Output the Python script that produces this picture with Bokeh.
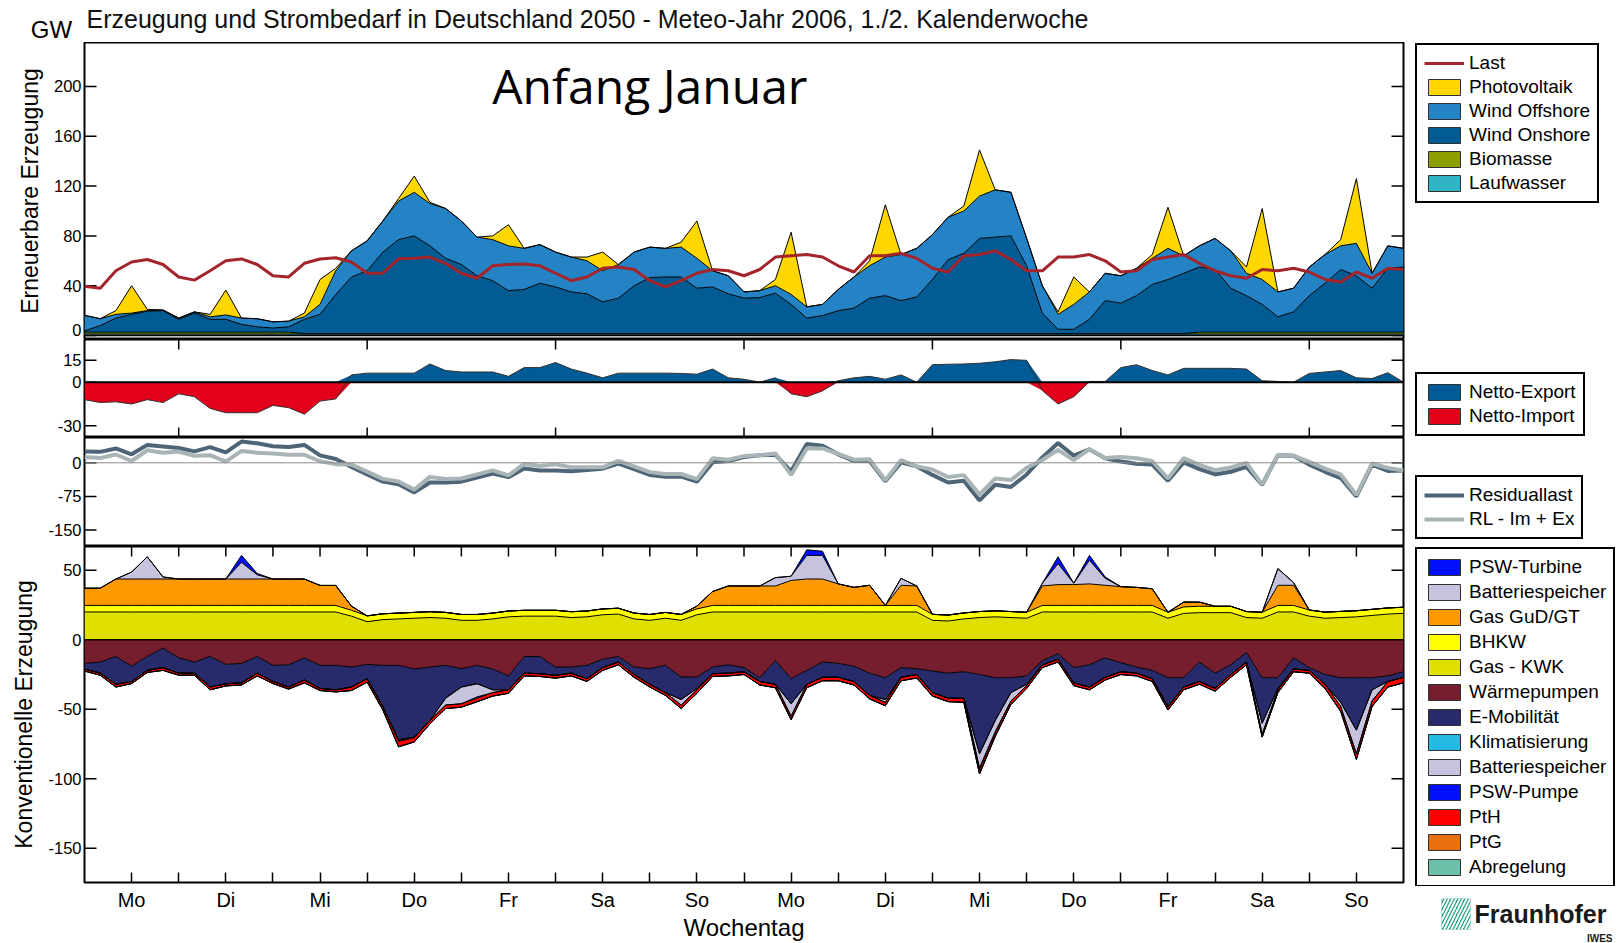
import numpy as np
from bokeh.plotting import figure
from bokeh.models import (ColumnDataSource, Range1d, FixedTicker, Legend, LegendItem, Label, Span,
                          BoxAnnotation, CustomJSTickFormatter)
from bokeh.layouts import column, row
from bokeh.embed import file_html
from bokeh.resources import INLINE

# ---------------- data: 4-hourly values, two weeks (Mo 00:00 ... Mo 00:00) ----------------
hours = list(range(0, 337, 4))
day_labels = ["Mo", "Di", "Mi", "Do", "Fr", "Sa", "So", "Mo", "Di", "Mi", "Do", "Fr", "Sa", "So"]
noon_ticks = [d + 0.5 for d in range(14)]
midnight_ticks = list(range(1, 14))
odd_day_ticks = [1, 3, 5, 7, 9, 11, 13]
title_text = "Erzeugung und Strombedarf in Deutschland 2050 - Meteo-Jahr 2006, 1./2. Kalenderwoche"

# renewable generation (GW)
laufwasser = [1.2, 1.2, 1.2, 1.2, 1.2, 1.2, 1.2, 1.2, 1.2, 1.2, 1.2, 1.2, 1.2, 1.2, 1.2, 1.2, 1.2,
              1.2, 1.2, 1.2, 1.2, 1.2, 1.2, 1.2, 1.2, 1.2, 1.2, 1.2, 1.2, 1.2, 1.2, 1.2, 1.2, 1.2,
              1.2, 1.2, 1.2, 1.2, 1.2, 1.2, 1.2, 1.2, 1.2, 1.2, 1.2, 1.2, 1.2, 1.2, 1.2, 1.2, 1.2,
              1.2, 1.2, 1.2, 1.2, 1.2, 1.2, 1.2, 1.2, 1.2, 1.2, 1.2, 1.2, 1.2, 1.2, 1.2, 1.2, 1.2,
              1.2, 1.2, 1.2, 1.2, 1.2, 1.2, 1.2, 1.2, 1.2, 1.2, 1.2, 1.2, 1.2, 1.2, 1.2, 1.2, 1.2]
biomasse = [1.5, 1.5, 1.5, 1.5, 1.5, 1.5, 1.5, 1.5, 1.5, 1.5, 1.5, 1.5, 1.5, 1.5,
            0.3, 0.3, 0.3, 0.3, 0.3, 0.3, 0.3, 0.3, 0.3, 0.3, 0.3, 0.3, 0.3, 0.3, 0.3, 0.3,
            0.3, 0.3, 0.3, 0.3, 0.3, 0.3, 0.3, 0.3, 0.3, 0.3, 0.3, 0.3, 0.3, 0.3, 0.3, 0.3,
            0.3, 0.3, 0.3, 0.3, 0.3, 0.3, 0.3, 0.3, 0.3, 0.3, 0.3, 0.3, 0.3, 0.3, 0.3, 0.3,
            0.3, 0.3, 0.3, 0.3, 0.3, 0.3, 0.3, 0.3, 0.3,
            1.5, 1.5, 1.5, 1.5, 1.5, 1.5, 1.5, 1.5, 1.5, 1.5, 1.5, 1.5, 1.5, 1.5]
wind_onshore = [1, 5.3, 11.3, 14.3, 16.8, 17.3, 10.3, 15.3, 10.3, 10.3, 6.3, 4.3, 3.3, 4.3,
                11.5, 15.5, 31.5, 45.5, 50.5, 65.5, 75.5, 78.5, 70.5, 60.5,
                55.5, 46.5, 42.5, 34.5, 35.5, 40.5, 37.5, 33.5, 32, 25.5,
                28.5, 38.5, 45, 45.5, 45.5, 36.5, 37.5, 32, 28.5, 29,
                32.5, 23.5, 12.5, 14.5, 18.5, 20.5, 28.5, 30.5, 26.5, 29.5,
                43.5, 59.5, 64.5, 76.5, 77.5, 78.5, 54.5, 16.5, 3.5, 3.5,
                11.5, 26.5, 24.5, 30.5, 39.5, 43.5, 48.5,
                52.3, 50.3, 35.3, 29.3, 22.3, 12.3, 16.3, 29.3, 39.3, 50.3, 45.3, 35.3, 51.3, 52.3]
wind_offshore = [12.5, 5.5, 3, 1, 0.5, 0.5, 1, 1, 2, 3.5,
                 5, 6.5, 5, 4.5, 2, 8, 19, 21, 24, 25,
                 31, 35, 34, 40, 35, 31, 33, 36, 33, 31,
                 28, 28, 26.5, 25, 27, 27, 24.5, 23, 24, 24,
                 13, 14.5, 5, 5.5, 6, 8, 9, 9, 17, 25,
                 26, 31, 37, 39, 36, 34, 34, 34, 38, 35,
                 22, 22, 12, 20, 22, 22, 22, 22, 21, 25,
                 14, 17, 25, 30, 18, 20, 20, 19, 23, 23,
                 19, 26, 12, 18, 15]
photovoltaik = [0, 0, 3, 22, 1, 0,  0, 0, 2, 20, 0, 0,  0, 0, 3, 20, 2, 0,  0, 0, 2, 13, 1, 0,
                0, 0, 3, 17, 0, 0,  0, 0, 3, 15, 0, 0,  0, 0, 4, 30, 0, 0,  0, 0, 5, 50, 0, 0,
                0, 0, 4, 42, 0, 0,  0, 0, 4, 37, 0, 0,  0, 0, 2, 22, 0, 0,  0, 0, 3, 33, 0, 0,
                0, 0, 5, 57, 0, 0,  0, 0, 5, 52, 0, 0,  0]
last = [39.5, 38, 52, 59, 61, 57,  47, 44.5, 52, 60, 61.5, 57,  48, 47, 58, 61.5, 62.5, 59,
        50, 50, 61.6, 62, 63, 58,  50, 46, 56, 57, 57.5, 56,  50, 44, 47, 54, 55, 53,
        44, 39, 44, 50, 53, 52,  48, 53, 63, 64, 65, 63,  56, 51, 64, 64, 66, 62,
        54, 51, 64, 65, 68, 61,  52, 52, 63, 63, 65, 60,  51, 52, 61, 63, 65, 58,
        52, 48, 46, 53, 52, 54,  51, 45, 43, 51, 46, 54,  53]

# net exchange (+ export / - import)
netto = [-12, -14, -13.5, -15, -12, -14,  -8, -10, -18, -21, -21, -21,  -16, -17.5, -22, -13, -11.5, 5,
         6.2, 6.2, 6.2, 6.2, 12.5, 8,  7, 7, 7, 4, 10, 10,  13.5, 9, 6.2, 3, 6.2, 6.2,
         6.2, 6.2, 6, 5.5, 9, 3,  2, 0, 3, -8, -10, -6,  1, 3, 4, 2, 5, 0,
         12, 12.3, 12.5, 13, 14, 15.5,  15, -5.8, -15, -10, 0.5, 0.5,  10, 12, 8, 5, 9.5, 9.5,
         9.5, 9.5, 9, 1, 0.5, 0,  6, 7, 8, 3, 2.5, 6.5,  0]

# residual load lines
residuallast = [25, 24.5, 32, 19, 40, 36.5,  33, 25.5, 35, 23.5, 47.5, 43.5,  37, 35.5, 40, 16.5, 8.5, -9,
                -26, -42, -48, -66, -44, -44,  -42, -33, -24, -32, -12.5, -17,  -17, -19, -16, -13, -2, -14,
                -27, -31, -31, -42, 1, 4,  13, 17, 18, -19, 42, 38,  19, 4, 4, -41, 1, -8,
                -27, -44, -40, -84, -49, -54,  -26, 12, 44, 16, 30, 10,  3, -2, -4, -40, 1, -14,
                -26, -20, -9, -49, 17, 16,  -4, -20, -34, -75, -4, -18,  -17]
rl_im_ex = [13, 10.5, 18.5, 4, 28, 22.5,  25, 15.5, 17, 2.5, 26.5, 22.5,  21, 18, 18, 3.5, -3, -4,
            -19.8, -35.8, -41.8, -59.8, -31.5, -36,  -35, -26, -17, -28, -2.5, -7,  -3.5, -10, -9.8, -10, 4.2, -7.8,
            -20.8, -24.8, -25, -36.5, 10, 7,  15, 17, 21, -27, 32, 32,  20, 7, 8, -39, 6, -8,
            -15, -31.7, -27.5, -71, -35, -38.5,  -11, 6.2, 29, 6, 30.5, 10.5,  13, 10, 4, -35, 10.5, -4.5,
            -16.5, -10.5, 0, -48, 17.5, 16,  2, -13, -26, -72, -1.5, -11.5,  -17]

# conventional generation (positive)
gas_kwk = [20, 20, 20, 20, 20, 20, 20, 20, 20, 20, 20, 20, 20, 20, 20, 20, 20,
           17, 13, 14.5, 15, 15.5, 16, 15.5, 14, 14, 15, 16.5, 17, 17, 17, 16, 16.5, 18, 18.5, 15, 14, 15.5, 14, 18,
           20, 20, 20, 20, 20, 20, 20, 20, 20, 20, 20, 20, 20, 20,
           14, 13.5, 15, 16, 16.5, 16, 15.5,
           20, 20, 20, 20, 20, 20, 20, 20,
           15.5, 19, 19.5, 19.5, 19.5, 16, 15.5, 20, 20, 17, 15.5, 16, 16.5, 17.5, 18.5, 19]
bhkw = [4.7, 4.7, 4.7, 4.7, 4.7, 4.7, 4.7, 4.7, 4.7, 4.7, 4.7, 4.7, 4.7, 4.7, 4.7, 4.7, 4.7,
        4.2, 4.2, 4.2, 4.2, 4.2, 4.2, 4.2, 4.2, 4.2, 4.2, 4.2, 4.2, 4.2, 4.2, 4.2, 4.2, 4.2, 4.2,
        4.2, 4.2, 4.2, 4.2, 4.2,
        4.7, 4.7, 4.7, 4.7, 4.7, 4.7, 4.7, 4.7, 4.7, 4.7, 4.7, 4.7, 4.7, 4.7,
        4.3, 4.3, 4.3, 4.3, 4.3, 4.3, 4.3,
        4.7, 4.7, 4.7, 4.7, 4.7, 4.7, 4.7, 4.7,
        4.3, 4.6, 4.6, 4.6, 4.6, 4.3, 4.3, 4.7, 4.7, 4.4, 4.4, 4.4, 4.4, 4.4, 4.4, 4.4]
gas_gud = [12.4, 12.4, 19, 19, 19, 19, 19, 19, 19, 19, 19, 19, 19, 19, 19, 14.4, 14.4, 3,
           0, 0, 0, 0, 0, 0, 0, 0, 0, 0, 0, 0, 0, 0, 0, 0, 0, 0, 0, 0, 0,
           2, 10, 14, 14, 14, 14, 18, 19, 19, 15.5, 13, 14.5, 0, 14.5, 14,
           0, 0, 0, 0, 0, 0, 0,
           14, 15, 15, 15.5, 14.5, 13.5, 13, 12,
           0, 3.5, 3, 0, 0, 0, 0, 14.5, 14.5, 0, 0, 0, 0, 0, 0, 0]
batterie_entl = [0, 0, 0, 5, 16, 1.5,  0, 0, 0, 0, 12, 3,  0, 0, 0, 0, 0, 0,  0, 0, 0, 0, 0, 0,
                 0, 0, 0, 0, 0, 0,  0, 0, 0, 0, 0, 0,  0, 0, 0, 0, 0, 0,  0, 0, 6, 3, 17, 17,
                 0, 0, 0, 0, 5, 0,  0, 0, 0, 0, 0, 0,  0, 2, 15, 1, 17, 5,  0, 0, 0, 0, 0, 0,
                 0, 0, 0, 0, 12, 2,  0, 0, 0, 0, 0, 0,  0]
psw_turbine = [0, 0, 0, 0, 0, 0,  0, 0, 0, 0, 5, 1,  0, 0, 0, 0, 0, 0,  0, 0, 0, 0, 0, 0,
               0, 0, 0, 0, 0, 0,  0, 0, 0, 0, 0, 0,  0, 0, 0, 0, 0, 0,  0, 0, 0, 0, 4, 3,
               0, 0, 0, 0, 0, 0,  0, 0, 0, 0, 0, 0,  0, 0, 5, 0, 3.5, 1,  0, 0, 0, 0, 0, 0,
               0, 0, 0, 0, 0, 0,  0, 0, 0, 0, 0, 0,  0]

# consumption / flexible loads (drawn below zero)
waermepumpen = [17, 16, 12, 19, 12, 6,  13, 16, 12, 17.7, 17, 12,  18.4, 18, 13, 18.4, 18.4, 19.6,
                17.7, 18.4, 18.4, 21, 19.6, 18.4,  20.8, 18.4, 21, 26, 12, 12,  19.6, 19.6, 18.4, 14, 12, 19.6,
                20.8, 18.4, 26.8, 26.8, 19.6, 18,  20, 27.3, 15, 28, 22, 16,  17, 19, 24, 27.3, 20, 20.8,
                22.5, 24, 23, 25, 27.3, 27.3,  26, 15, 10, 20, 18, 13,  16.5, 19.6, 22, 27.3, 27.3, 16,
                24, 18, 9, 27.3, 27.3, 13,  20, 25, 27.3, 27.3, 27.3, 26,  23]
e_mobilitaet = [4, 8, 20, 11, 10, 14,  11, 8, 22, 14, 14, 12,  11.6, 16, 16, 16.6, 17.6, 14.4,
                10.3, 29.6, 53.6, 49, 38.4, 23.6,  13.2, 13.2, 15, 10, 12, 12.4,  6, 4.4, 9.6, 6, 4, 5.4,
                11.2, 19.6, 16.2, 8.2, 4.8, 6,  3, 2.7, 17, 18, 10, 11,  10, 11, 16, 15.7, 7, 4.2,
                15.5, 18, 19, 57, 30.7, 10.7,  6, 3, 4, 11, 16, 14,  6.5, 4.4, 6, 20.7, 6.7, 14,
                11, 7, 7, 32.7, 7.7, 8,  2, 7, 17.7, 37.7, 8.7, 4,  4]
klimatisierung = [0, 0, 0, 0, 0, 0,  0, 0, 0, 0, 0, 0,  0, 0, 0, 0, 0, 0,  0, 0, 0, 0, 0, 0,
                  0, 0, 0, 0, 0, 0,  0, 0, 0, 0, 0, 0,  0, 0, 0, 0, 0, 0,  0, 0, 0, 0, 0, 0,
                  0, 0, 0, 0, 0, 0,  0, 0, 0, 0, 0, 0,  0, 0, 0, 0, 0, 0,  0, 0, 0, 0, 0, 0,
                  0, 0, 0, 0, 0, 0,  0, 0, 0, 0, 0, 0,  0]
batterie_lad = [0, 0, 0, 0, 0, 0,  0, 0, 0, 0, 0, 0,  0, 0, 0, 0, 0, 0,  0, 0, 0, 0, 0, 5,
                12, 9.5, 2, 0, 0, 0,  0, 0, 0, 0, 0, 0,  0, 0, 4, 1, 0, 0,  0, 0, 0, 9, 0, 0,
                0, 0, 0, 2, 0, 0,  0, 0, 0, 10, 8, 6,  1, 0, 0, 0, 0, 0,  0, 0, 0, 0, 0, 0,
                0, 0, 0, 8, 1, 0,  0, 0, 3, 17, 8, 0,  0]
psw_pumpe = [0, 0, 0, 0, 0, 0,  0, 0, 0, 0, 0, 0,  0, 0, 0, 0, 0, 0,  0, 0, 1, 0.5, 0, 0,
             0, 1, 0, 0, 0, 0,  0, 0, 0, 0, 0, 0,  0, 0, 0, 0, 0, 0,  0, 0, 0, 0, 0, 0,
             0, 0, 0, 0, 0, 0,  0, 0, 0, 1.5, 1, 0,  0, 0, 0, 0, 0, 0,  0, 0, 0, 0.5, 0, 0,
             0, 0, 0, 0, 0, 0,  0, 0, 0, 0, 0, 0,  0]
pth = [1.5, 1.5, 2, 1.5, 1.5, 2,  1.5, 1.5, 2, 1.5, 1.5, 2,  1.5, 1.5, 2, 1.5, 1.5, 2.5,
       2.5, 2.5, 4, 3, 2.5, 2.5,  2.5, 2.5, 2.5, 2.5, 2, 2,  2, 2, 2, 2, 2, 2,
       2, 2, 2.5, 2.5, 2, 2,  2, 2.5, 2.5, 2.5, 2.5, 2.5,  2.5, 2.5, 2.5, 2.5, 2.5, 2.5,
       2.5, 2.5, 3, 3, 2.5, 2.5,  2, 2, 2, 2, 2, 2,  2, 2, 2, 2, 2, 2,
       2, 2, 2, 2, 2, 2,  2, 3, 3.5, 4, 4, 4,  4]
ptg = [0, 0, 0, 0, 0, 0,  0, 0, 0, 0, 0, 0,  0, 0, 0, 0, 0, 0,  0, 0, 0, 0, 0, 0,
       0, 0, 0, 0, 0, 0,  0, 0, 0, 0, 0, 0,  0, 0, 0, 0, 0, 0,  0, 0, 0, 0, 0, 0,
       0, 0, 0, 0, 0, 0,  0, 0, 0, 0, 0, 0,  0, 0, 0, 0, 0, 0,  0, 0, 0, 0, 0, 0,
       0, 0, 0, 0, 0, 0,  0, 0, 0, 0, 0, 0,  0]
abregelung = [0, 0, 0, 0, 0, 0,  0, 0, 0, 0, 0, 0,  0, 0, 0, 0, 0, 0,  0, 0, 0, 0, 0, 0,
              0, 0, 0, 0, 0, 0,  0, 0, 0, 0, 0, 0,  0, 0, 0, 0, 0, 0,  0, 0, 0, 0, 0, 0,
              0, 0, 0, 0, 0, 0,  0, 0, 0, 0, 0, 0,  0, 0, 0, 0, 0, 0,  0, 0, 0, 0, 0, 0,
              0, 0, 0, 0, 0, 0,  0, 0, 0, 0, 0, 0,  0]

# ---------------- styling ----------------
FONT = "Liberation Sans"
FW = 1319          # plot-frame width (px)
LEFT = 84          # left border (px)
GAP = 11           # gap between frame and legend column (px)
LEGW = 1618 - LEFT - FW - GAP
C = dict(lauf="#31B3C6", bio="#8C9E00", on="#035B94", off="#2383C4", pv="#FFD700", last="#A4242C",
         exp="#005B96", imp="#E3001B", rl="#4D6576", rlx="#A9B4B6",
         psw="#0010FF", bat="#C6C3DF", gud="#FF9900", bhkw="#FFFF00", kwk="#E0E000", wp="#761D2E",
         emob="#272B6B", klima="#23B9E2", pth="#FF0000", ptg="#E8700E", abr="#6BC1A9")

t = np.array(hours) / 24.0
xr = Range1d(0, 14)


def base_fig(fh, yr, xaxis=False, bottom=0):
    p = figure(frame_width=FW, frame_height=fh, x_range=xr, y_range=Range1d(yr[0], yr[1]),
               output_backend="svg", toolbar_location=None, title_location=None,
               x_axis_location="below" if xaxis else None,
               min_border_left=LEFT, min_border_right=GAP, min_border_top=0, min_border_bottom=bottom)
    p.grid.visible = False
    p.outline_line_color = "black"
    p.outline_line_width = 2
    p.outline_line_alpha = 1
    p.background_fill_color = "white"
    p.border_fill_color = "white"
    return p


def style_y(p, ticks, yr, fh, label=None, label_standoff=8, label_ticks=None):
    ax = p.yaxis[0]
    ax.ticker = FixedTicker(ticks=label_ticks if label_ticks is not None else ticks)
    ax.formatter = CustomJSTickFormatter(code="return (Math.abs(tick) < 6) ? '0' : tick.toFixed(0);")
    ax.major_tick_in = 0
    ax.major_tick_out = 0
    ax.minor_tick_in = 0
    ax.minor_tick_out = 0
    ax.axis_line_color = None
    ax.major_label_text_font = FONT
    ax.major_label_text_font_size = "16.5px"
    ax.major_label_text_color = "black"
    ax.major_label_standoff = 3
    if label:
        ax.axis_label = label
        ax.axis_label_text_font = FONT
        ax.axis_label_text_font_size = "23px"
        ax.axis_label_text_font_style = "normal"
        ax.axis_label_text_color = "black"
        ax.axis_label_standoff = label_standoff
    # inward tick marks on both sides
    d = 12 * 14 / FW
    n = len(ticks)
    p.segment(x0=[0] * n, x1=[d] * n, y0=ticks, y1=ticks, line_color="black", line_width=1.5)
    p.segment(x0=[14] * n, x1=[14 - d] * n, y0=ticks, y1=ticks, line_color="black", line_width=1.5)


def x_tick_marks(p, xs, yr, fh, where, length=10):
    d = length * (yr[1] - yr[0]) / fh
    if where == "bottom":
        y0, y1 = yr[0], yr[0] + d
    else:
        y0, y1 = yr[1], yr[1] - d
    p.segment(x0=xs, x1=xs, y0=[y0] * len(xs), y1=[y1] * len(xs), line_color="black", line_width=1.5)


def plain_fig(w, h):
    f = figure(width=w, height=h, x_range=Range1d(0, w), y_range=Range1d(0, h),
               output_backend="svg", toolbar_location=None, title_location=None, min_border=0,
               x_axis_location=None, y_axis_location=None)
    f.outline_line_color = None
    f.grid.visible = False
    f.background_fill_color = "white"
    f.border_fill_color = "white"
    return f


def legend_fig(h, entries, loc, spacing=2, padding=7):
    f = plain_fig(LEGW, h)
    items = []
    for label, kind, color, lw in entries:
        # legend-key glyphs only: placed outside the visible range of this legend column
        if kind == "line":
            r = f.line(x=[-30, -20], y=[-30, -30], line_color=color, line_width=lw)
        else:
            r = f.quad(left=[-30], right=[-20], top=[-20], bottom=[-30], fill_color=color,
                       line_color="#303030", line_width=1)
        items.append(LegendItem(label=label, renderers=[r]))
    leg = Legend(items=items, location=loc, margin=1, padding=padding, spacing=spacing,
                 glyph_width=40, glyph_height=20, label_height=20, label_standoff=5,
                 label_text_font=FONT, label_text_font_size="19px", label_text_color="black",
                 border_line_color="black", border_line_width=2, border_line_alpha=1,
                 background_fill_color="white", background_fill_alpha=1)
    f.add_layout(leg)
    return f


# ---------------- header (title + unit) ----------------
header = plain_fig(1618, 42)
header.add_layout(Label(x=86, y=24, text=title_text, text_font=FONT, text_font_size="25px",
                        text_align="left", text_baseline="middle", text_color="#111111"))
header.add_layout(Label(x=51, y=13, text="GW", text_font=FONT, text_font_size="24px",
                        text_align="center", text_baseline="middle", text_color="black"))

# ---------------- panel 1: renewables ----------------
Y1 = (-3.2, 235.3)
H1 = 297
p1 = base_fig(H1, Y1)
style_y(p1, [0, 40, 80, 120, 160, 200], Y1, H1, "Erneuerbare Erzeugung", 8,
        label_ticks=[4.5, 40, 80, 120, 160, 200])
src1 = ColumnDataSource(dict(t=t, lauf=laufwasser, bio=biomasse, on=wind_onshore,
                             off=wind_offshore, pv=photovoltaik, last=last))
stack1 = ["lauf", "bio", "on", "off", "pv"]
p1.varea_stack(stack1, x="t", color=[C["lauf"], C["bio"], C["on"], C["off"], C["pv"]], source=src1)
p1.vline_stack(stack1, x="t", color="black", line_width=1, source=src1)
p1.add_layout(Span(location=0, dimension="width", line_color="black", line_width=1.5))
p1.line("t", "last", source=src1, line_color=C["last"], line_width=3)
p1.add_layout(Label(x=6.0, y=200.8, text="Anfang Januar", text_font="Open Sans", text_font_size="48px",
                    text_align="center", text_baseline="middle", text_color="black"))
lg1 = legend_fig(H1, [("Last", "line", C["last"], 3),
                      ("Photovoltaik", "box", C["pv"], 1),
                      ("Wind Offshore", "box", C["off"], 1),
                      ("Wind Onshore", "box", C["on"], 1),
                      ("Biomasse", "box", C["bio"], 1),
                      ("Laufwasser", "box", C["lauf"], 1)], "top_left")

# ---------------- panel 2: net exchange ----------------
Y2 = (-38.0, 29.3)
H2 = 98
p2 = base_fig(H2, Y2)
style_y(p2, [-30, 0, 15], Y2, H2)
net = np.array(netto, dtype=float)
src2 = ColumnDataSource(dict(t=t, exp=np.clip(net, 0, None), imp=np.clip(net, None, 0), net=net))
p2.varea(x="t", y1=0, y2="exp", source=src2, color=C["exp"])
p2.varea(x="t", y1="imp", y2=0, source=src2, color=C["imp"])
p2.line("t", "net", source=src2, line_color="#333333", line_width=1)
p2.add_layout(Span(location=0, dimension="width", line_color="black", line_width=2))
x_tick_marks(p2, odd_day_ticks, Y2, H2, "top")
x_tick_marks(p2, odd_day_ticks, Y2, H2, "bottom")
lg2 = legend_fig(H2, [("Netto-Export", "box", C["exp"], 1),
                      ("Netto-Import", "box", C["imp"], 1)], (1, 1))

# ---------------- panel 3: residual load ----------------
Y3 = (-186.8, 56.5)
H3 = 109
p3 = base_fig(H3, Y3)
style_y(p3, [-150, -75, 0], Y3, H3)
p3.add_layout(Span(location=0, dimension="width", line_color="#8a8a8a", line_width=1))
src3 = ColumnDataSource(dict(t=t, rl=residuallast, rlx=rl_im_ex))
p3.line("t", "rl", source=src3, line_color=C["rl"], line_width=4)
p3.line("t", "rlx", source=src3, line_color=C["rlx"], line_width=4)
lg3 = legend_fig(H3, [("Residuallast", "line", C["rl"], 4),
                      ("RL - Im + Ex", "line", C["rlx"], 4)], (1, 7))

# ---------------- panel 4: conventional generation & flexible loads ----------------
Y4 = (-174.6, 67.1)
H4 = 336
B4 = 61
p4 = base_fig(H4, Y4, xaxis=True, bottom=B4)
style_y(p4, [-150, -100, -50, 0, 50], Y4, H4, "Konventionelle Erzeugung", 8)
xa = p4.xaxis[0]
xa.ticker = FixedTicker(ticks=noon_ticks, minor_ticks=midnight_ticks)
xa.formatter = CustomJSTickFormatter(args=dict(names=day_labels),
                                     code="return names[Math.round(tick - 0.5)] || '';")
xa.major_tick_in = 10
xa.major_tick_out = 0
xa.minor_tick_in = 10
xa.minor_tick_out = 0
xa.major_tick_line_width = 1.5
xa.minor_tick_line_width = 1.5
xa.minor_tick_line_color = "black"
xa.axis_line_color = None
xa.major_label_text_font = FONT
xa.major_label_text_font_size = "20px"
xa.major_label_text_color = "black"
xa.major_label_standoff = 6
xa.axis_label = "Wochentag"
xa.axis_label_text_font = FONT
xa.axis_label_text_font_size = "24px"
xa.axis_label_text_font_style = "normal"
xa.axis_label_text_color = "black"
xa.axis_label_standoff = 0
x_tick_marks(p4, noon_ticks + midnight_ticks, Y4, H4, "top")

src4 = ColumnDataSource(dict(
    t=t, kwk=gas_kwk, bhkw=bhkw, gud=gas_gud, batd=batterie_entl, pswt=psw_turbine,
    wp=-np.array(waermepumpen, dtype=float), emob=-np.array(e_mobilitaet, dtype=float),
    klima=-np.array(klimatisierung, dtype=float), batl=-np.array(batterie_lad, dtype=float),
    pswp=-np.array(psw_pumpe, dtype=float), pth=-np.array(pth, dtype=float),
    ptg=-np.array(ptg, dtype=float), abr=-np.array(abregelung, dtype=float)))
pos = ["kwk", "bhkw", "gud", "batd", "pswt"]
neg = ["wp", "emob", "klima", "batl", "pswp", "pth", "ptg", "abr"]
p4.varea_stack(pos, x="t", color=[C["kwk"], C["bhkw"], C["gud"], C["bat"], C["psw"]], source=src4)
p4.varea_stack(neg, x="t", color=[C["wp"], C["emob"], C["klima"], C["bat"], C["psw"], C["pth"],
                                  C["ptg"], C["abr"]], source=src4)
p4.vline_stack(pos, x="t", color="black", line_width=1, source=src4)
p4.vline_stack(neg, x="t", color="black", line_width=1, source=src4)
p4.add_layout(Span(location=0, dimension="width", line_color="black", line_width=1.5))

LG4H = 340
lg4 = legend_fig(LG4H, [("PSW-Turbine", "box", C["psw"], 1),
                        ("Batteriespeicher", "box", C["bat"], 1),
                        ("Gas GuD/GT", "box", C["gud"], 1),
                        ("BHKW", "box", C["bhkw"], 1),
                        ("Gas - KWK", "box", C["kwk"], 1),
                        ("Wärmepumpen", "box", C["wp"], 1),
                        ("E-Mobilität", "box", C["emob"], 1),
                        ("Klimatisierung", "box", C["klima"], 1),
                        ("Batteriespeicher", "box", C["bat"], 1),
                        ("PSW-Pumpe", "box", C["psw"], 1),
                        ("PtH", "box", C["pth"], 1),
                        ("PtG", "box", C["ptg"], 1),
                        ("Abregelung", "box", C["abr"], 1)], "top_left", spacing=3)

# Fraunhofer mark below the legend column
logo = plain_fig(LEGW, H4 + B4 - LG4H)
logo.add_layout(BoxAnnotation(left=27, right=56, bottom=14, top=45, fill_color="#179C7D",
                              fill_alpha=1, line_color=None, hatch_pattern="/", hatch_color="white",
                              hatch_scale=7, hatch_weight=2))
logo.add_layout(Label(x=60, y=30, text="Fraunhofer", text_font=FONT, text_font_size="25px",
                      text_font_style="bold", text_align="left", text_baseline="middle",
                      text_color="#1a1a1a"))
logo.add_layout(Label(x=198, y=5, text="IWES", text_font=FONT, text_font_size="10px",
                      text_font_style="bold", text_align="right", text_baseline="middle",
                      text_color="#1a1a1a"))

layout = column(header, row(p1, lg1), row(p2, lg2), row(p3, lg3), row(p4, column(lg4, logo)))
open("out.html", "w").write(file_html(layout, INLINE))
